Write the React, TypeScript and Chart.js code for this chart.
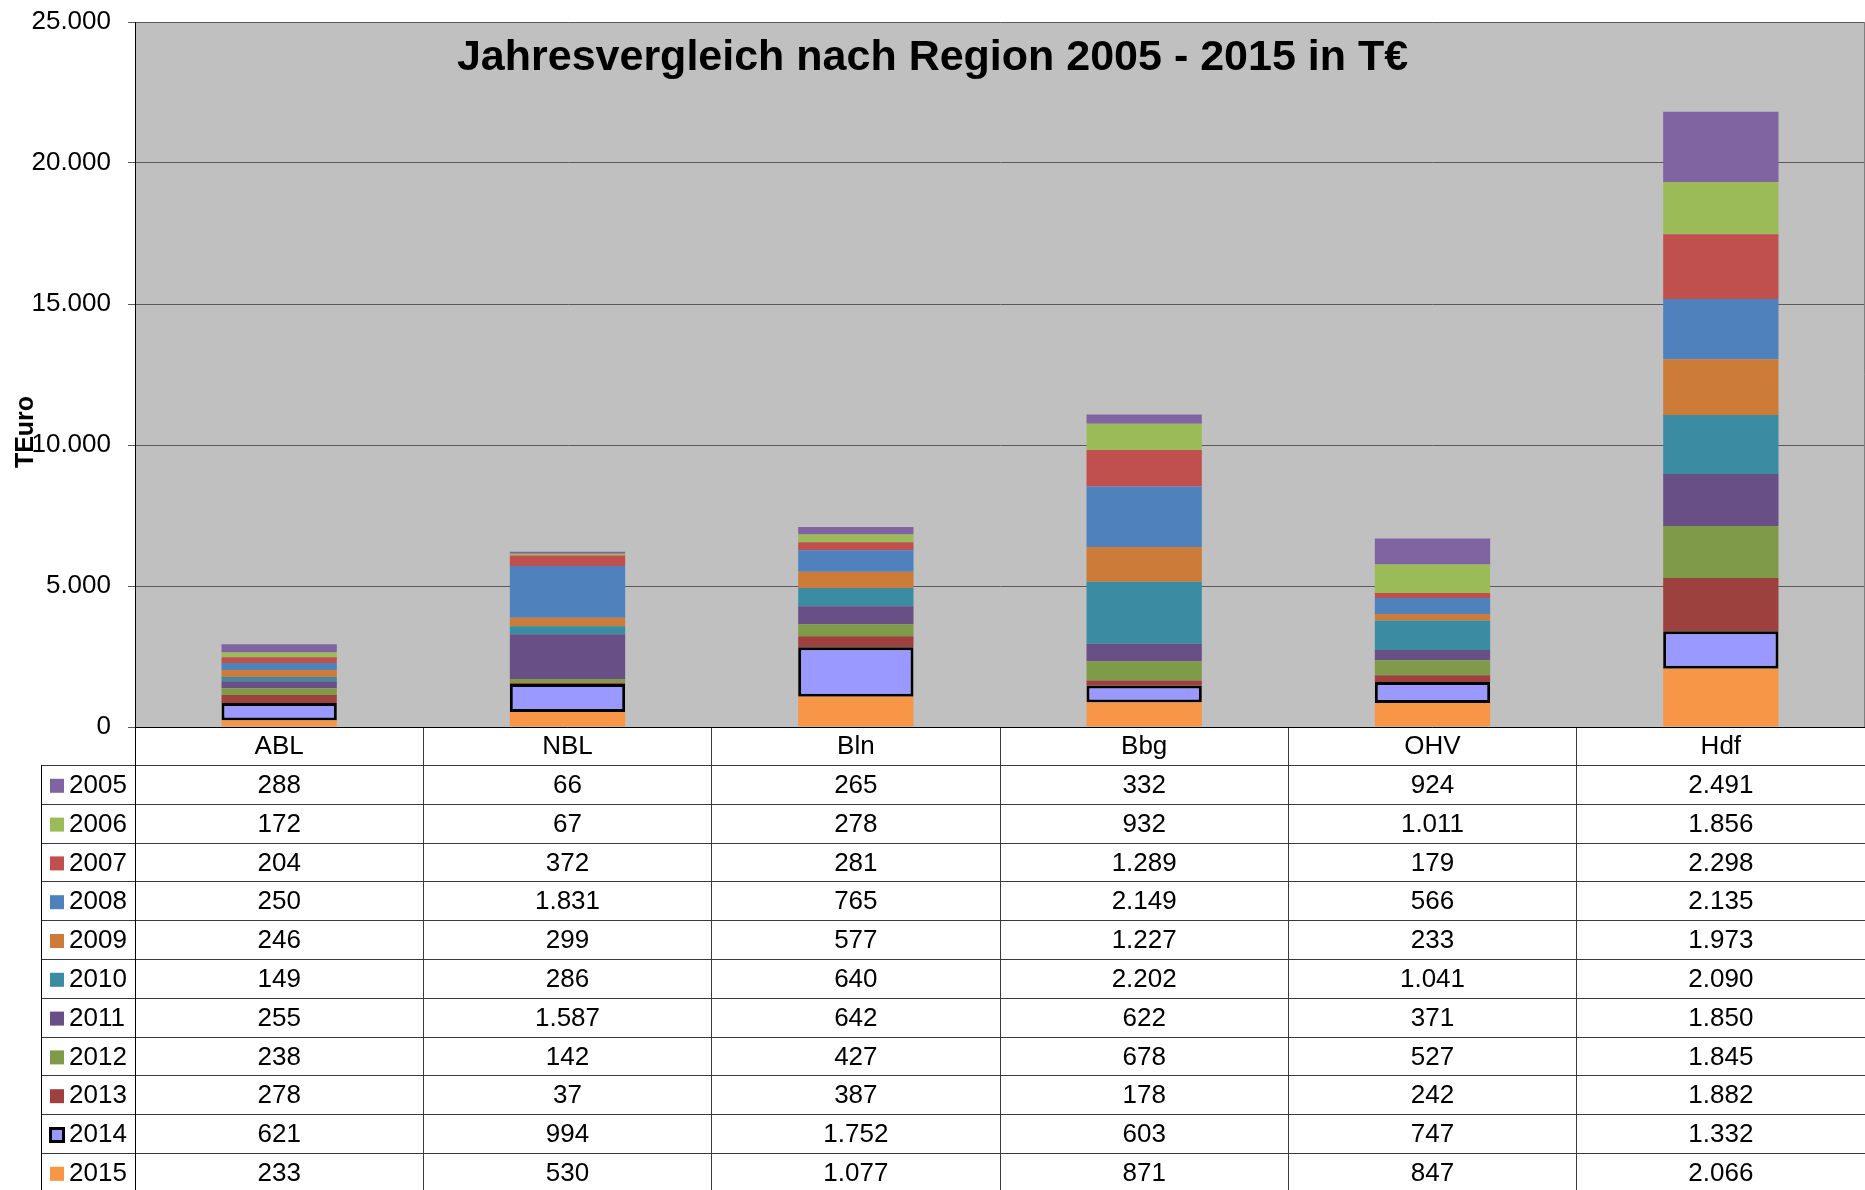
import { useEffect, useRef } from 'react';
import { Chart, registerables } from 'chart.js';

Chart.register(...registerables);

// ---------- data ----------
const regions = ['ABL', 'NBL', 'Bln', 'Bbg', 'OHV', 'Hdf'];
const years = ['2005', '2006', '2007', '2008', '2009', '2010', '2011', '2012', '2013', '2014', '2015'];

const values2005 = [288, 66, 265, 332, 924, 2491];
const values2006 = [172, 67, 278, 932, 1011, 1856];
const values2007 = [204, 372, 281, 1289, 179, 2298];
const values2008 = [250, 1831, 765, 2149, 566, 2135];
const values2009 = [246, 299, 577, 1227, 233, 1973];
const values2010 = [149, 286, 640, 2202, 1041, 2090];
const values2011 = [255, 1587, 642, 622, 371, 1850];
const values2012 = [238, 142, 427, 678, 527, 1845];
const values2013 = [278, 37, 387, 178, 242, 1882];
const values2014 = [621, 994, 1752, 603, 747, 1332];
const values2015 = [233, 530, 1077, 871, 847, 2066];

const yearValues = [
  values2005, values2006, values2007, values2008, values2009, values2010,
  values2011, values2012, values2013, values2014, values2015,
];

const yMin = 0;
const yMax = 25000;
const yStep = 5000;

const chartTitle = 'Jahresvergleich nach Region 2005 - 2015 in T€';
const yAxisTitle = 'TEuro';

// ---------- styles ----------
const yearColors = [
  '#8064A2', '#9BBB59', '#C0504D', '#4F81BD', '#CC7B38', '#3B8CA3',
  '#684F86', '#7F9A48', '#9D413E', '#9999FF', '#F79646',
];
const outlinedYear = '2014';

const FONT = "'Liberation Sans', Arial, Helvetica, sans-serif";
const W = 1865;
const H = 1190;

const fmt = (v: number) => String(v).replace(/\B(?=(\d{3})+(?!\d))/g, '.');

const align = (p: number, w = 1) => Math.round(p - w / 2) + w / 2;

const backgroundPlugin = {
  id: 'plotBackground',
  beforeDraw(chart: any) {
    const { ctx, chartArea: a } = chart;
    ctx.save();
    ctx.fillStyle = '#FFFFFF';
    ctx.fillRect(0, 0, chart.width, chart.height);
    ctx.fillStyle = '#C0C0C0';
    ctx.fillRect(a.left, a.top, a.right - a.left, a.bottom - a.top);
    ctx.restore();
  },
};

const tablePlugin = {
  id: 'dataTable',
  afterDraw(chart: any) {
    const { ctx, chartArea: a, scales } = chart;
    const xs = scales.x;
    const rowH = 38.8;
    const headTop = a.bottom;
    const headBottom = headTop + 38.4;
    const tableLeft = 41;
    const bottom = chart.height;

    const line = (x1: number, y1: number, x2: number, y2: number) => {
      ctx.beginPath();
      ctx.moveTo(x1, y1);
      ctx.lineTo(x2, y2);
      ctx.stroke();
    };

    ctx.save();

    // right border of plot area
    ctx.strokeStyle = '#7F7F7F';
    ctx.lineWidth = 1;
    line(align(a.right - 1), a.top, align(a.right - 1), a.bottom);

    // table grid
    ctx.strokeStyle = '#3A3A3A';
    for (let k = 0; k <= years.length; k++) {
      const yy = align(headBottom + k * rowH);
      line(tableLeft, yy, a.right, yy);
    }
    for (let i = 1; i < regions.length; i++) {
      const xx = align(a.left + (i * (a.right - a.left)) / regions.length);
      line(xx, headTop, xx, bottom);
    }
    ctx.strokeStyle = '#000000';
    line(align(a.left), headTop, align(a.left), bottom);
    line(align(tableLeft), headBottom, align(tableLeft), bottom);
    line(a.left, align(a.bottom), a.right, align(a.bottom));

    // header row
    ctx.fillStyle = '#000000';
    ctx.font = `26px ${FONT}`;
    ctx.textAlign = 'center';
    ctx.textBaseline = 'middle';
    regions.forEach((r, i) => {
      ctx.fillText(r, xs.getPixelForValue(i), (headTop + headBottom) / 2 + 1);
    });

    // body rows
    years.forEach((yr, k) => {
      const cy = headBottom + k * rowH + rowH / 2 + 1;
      const color = yearColors[k];
      if (yr === outlinedYear) {
        ctx.fillStyle = '#000000';
        ctx.fillRect(49, cy - 8, 16, 16);
        ctx.fillStyle = color;
        ctx.fillRect(52, cy - 5, 10, 10);
      } else {
        ctx.fillStyle = color;
        ctx.fillRect(50, cy - 7, 14, 14);
      }
      ctx.fillStyle = '#000000';
      ctx.textAlign = 'left';
      ctx.fillText(yr, 69, cy);
      ctx.textAlign = 'center';
      yearValues[k].forEach((v, i) => {
        ctx.fillText(fmt(v), xs.getPixelForValue(i), cy);
      });
    });

    // chart title
    ctx.font = `bold 43px ${FONT}`;
    ctx.textAlign = 'center';
    ctx.textBaseline = 'alphabetic';
    ctx.fillText(chartTitle, chart.width / 2, 70);

    // y axis title
    ctx.font = `bold 25px ${FONT}`;
    ctx.translate(26, 432);
    ctx.rotate(-Math.PI / 2);
    ctx.textAlign = 'center';
    ctx.textBaseline = 'middle';
    ctx.fillText(yAxisTitle, 0, 0);

    ctx.restore();
  },
};

export default function App() {
  const canvasRef = useRef<HTMLCanvasElement | null>(null);

  useEffect(() => {
    const canvas = canvasRef.current;
    if (!canvas) return;

    // stack with 2015 at the bottom, 2005 on top
    const order = years.map((_, i) => i).reverse();
    const datasets = order.map((k) => ({
      label: years[k],
      data: yearValues[k],
      backgroundColor: yearColors[k],
      borderColor: years[k] === outlinedYear ? '#000000' : yearColors[k],
      borderWidth: years[k] === outlinedYear ? 3 : 0,
      borderSkipped: false as const,
      categoryPercentage: 1,
      barPercentage: 0.4,
    }));

    const chart = new Chart(canvas, {
      type: 'bar',
      data: { labels: regions, datasets },
      options: {
        responsive: false,
        animation: false,
        devicePixelRatio: 1,
        layout: { padding: { top: 22, right: 0, bottom: H - 727, left: 0 } },
        plugins: {
          legend: { display: false },
          title: { display: false },
          tooltip: { enabled: false },
        },
        scales: {
          x: {
            stacked: true,
            display: false,
          },
          y: {
            stacked: true,
            min: yMin,
            max: yMax,
            afterFit(scale: any) {
              scale.width = 135;
              scale.paddingTop = 0;
              scale.paddingBottom = 0;
            },
            border: { display: true, color: '#000000', width: 1 },
            grid: {
              color: '#5A5A5A',
              tickColor: '#5A5A5A',
              tickLength: 7,
              lineWidth: 1,
            },
            ticks: {
              stepSize: yStep,
              padding: 17,
              color: '#000000',
              font: { family: FONT, size: 26 },
              callback: (v: any) => fmt(Number(v)),
            },
          },
        },
      },
      plugins: [backgroundPlugin, tablePlugin],
    });

    return () => chart.destroy();
  }, []);

  return (
    <div style={{ position: 'fixed', left: 0, top: 0, width: W, height: H, background: '#fff' }}>
      <canvas ref={canvasRef} width={W} height={H} style={{ display: 'block' }} />
    </div>
  );
}
